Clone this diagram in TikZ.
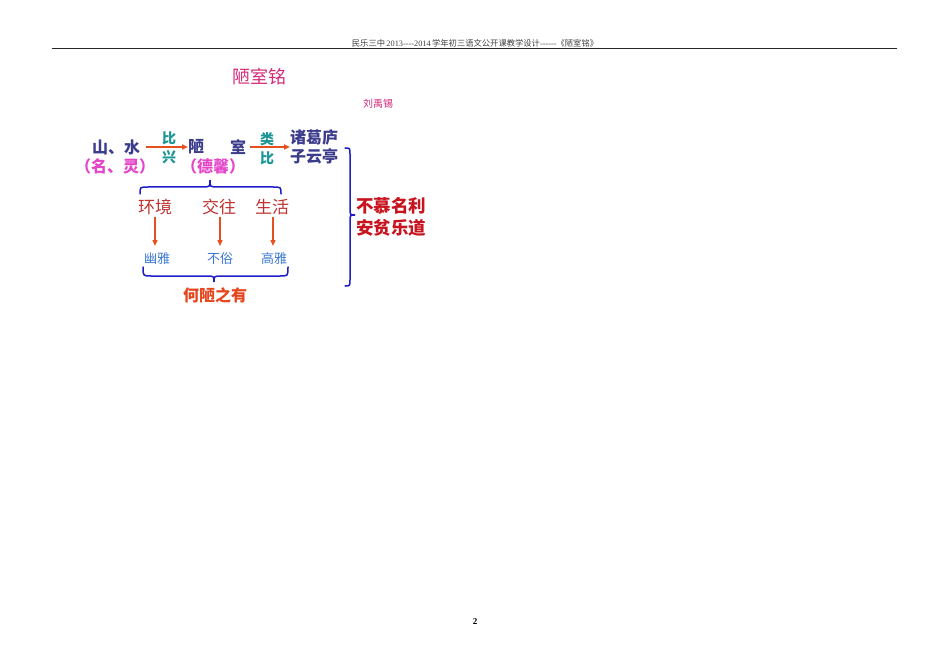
\documentclass[tikz,border=0pt]{standalone}
\usepackage{fontspec}
\setmainfont{Noto Sans CJK SC}
\newfontfamily\serifl{Liberation Serif}
\usetikzlibrary{arrows.meta}
\definecolor{dblue}{RGB}{60,60,140}
\definecolor{pinkc}{RGB}{228,70,200}
\definecolor{titlec}{RGB}{210,40,120}
\definecolor{tealc}{RGB}{30,150,150}
\definecolor{arrowc}{RGB}{230,80,30}
\definecolor{redc}{RGB}{190,50,50}
\definecolor{bluet}{RGB}{60,120,210}
\definecolor{orangec}{RGB}{230,70,30}
\definecolor{braceb}{RGB}{30,30,200}
\definecolor{dredc}{RGB}{200,20,30}
\tikzset{
  every node/.style={inner sep=0pt, outer sep=0pt},
  mainword/.style={font=\fontsize{16}{18}\selectfont\bfseries, text=dblue},
  pinkword/.style={font=\fontsize{16}{18}\selectfont\bfseries, text=pinkc},
  tealword/.style={font=\fontsize{14}{16}\selectfont\bfseries, text=tealc},
  redword/.style={font=\fontsize{17}{19}\selectfont, text=redc},
  blueword/.style={font=\fontsize{13}{15}\selectfont, text=bluet},
  conclude/.style={font=\fontsize{17.5}{20}\selectfont\bfseries, text=dredc},
  harrow/.style={draw=arrowc, line width=1.6pt, -{Triangle[length=6pt,width=5pt]}},
  varrow/.style={draw=arrowc, line width=1.3pt, -{Triangle[length=6pt,width=5pt]}},
  bracec/.style={draw=braceb, line width=1.5pt, line cap=round},
}
\begin{document}
\begin{tikzpicture}[x=1pt,y=-1pt]
\useasboundingbox (0,0) rectangle (950,671);
% header
\node[font=\fontsize{8.3}{9}\selectfont, text=black!75] (hdr) at (475,43) {民乐三中\,{\serifl 2013----2014}\,学年初三语文公开课教学设计{\serifl ------}《陋室铭》};
\coordinate (hl) at (52,49);
\coordinate (hr) at (897,49);
\draw[line width=1pt, black!85] (hl) -- (hr);
% title
\node[font=\fontsize{18}{20}\selectfont, text=titlec] (title) at (259,77) {陋室铭};
\node[font=\fontsize{10}{12}\selectfont, text=titlec] (author) at (378,104) {刘禹锡};
% row 1
\node[mainword] (shan) at (116,147) {山、水};
\node[pinkword] (ming) at (115,166) {（名、灵）};
\node[mainword] (lou) at (196,147) {陋};
\node[mainword] (shi) at (238,147) {室};
\node[pinkword] (dexin) at (213,166) {（德馨）};
\node[tealword] (bi1) at (169,138) {比};
\node[tealword] (xing) at (169,157) {兴};
\node[tealword] (lei) at (267,139) {类};
\node[tealword] (bi2) at (267,158) {比};
\node[mainword] (zhuge) at (314,137) {诸葛庐};
\node[mainword] (ziyun) at (314,156) {子云亭};
\draw[harrow] (shan.east) ++(6,0) coordinate (a1s) -- (lou.west -| 188,0) coordinate (a1e);
\draw[harrow] (shi.east) ++(4,0) coordinate (a2s) -- (zhuge.west |- shi.east) coordinate (a2e);
% top brace
\draw[bracec] (140,194) .. controls (140,187) .. (148,187) -- (202,187) .. controls (210,187) .. (210,180) coordinate (tb) .. controls (210,187) .. (218,187) -- (273,187) .. controls (281,187) .. (281,194);
% row 2
\node[redword] (huanjing) at (155,207) {环境};
\node[redword] (jiaowang) at (219,207) {交往};
\node[redword] (shenghuo) at (272,207) {生活};
\node[blueword] (youya) at (157,259) {幽雅};
\node[blueword] (busu) at (220,259) {不俗};
\node[blueword] (gaoya) at (274,259) {高雅};
\draw[varrow] (huanjing.south -| 155,0) ++(0,2) -- (155,246);
\draw[varrow] (jiaowang.south -| 220,0) ++(0,2) -- (220,246);
\draw[varrow] (shenghuo.south -| 273,0) ++(0,2) -- (273,246);
% bottom brace
\draw[bracec] (143,267) .. controls (143,276) .. (151,276) -- (206,276) .. controls (214,276) .. (214,282) coordinate (bb) .. controls (214,276) .. (222,276) -- (280,276) .. controls (288,276) .. (288,267);
\node[font=\fontsize{16}{18}\selectfont\bfseries, text=orangec] (helou) at (215,295) {何陋之有};
% right brace
\draw[bracec] (345,148) .. controls (350,148) .. (350,155) -- (350,208) .. controls (350,215) .. (355,215) coordinate (rb) .. controls (350,215) .. (350,222) -- (350,279) .. controls (350,286) .. (345,286);
\node[conclude] (bumu) at (391,206) {不慕名利};
\node[conclude] (anpin) at (391,228) {安贫乐道};
% page number
\node[font=\serifl\fontsize{9}{10}\selectfont\bfseries] (pg) at (475,622) {2};
\end{tikzpicture}
\end{document}
